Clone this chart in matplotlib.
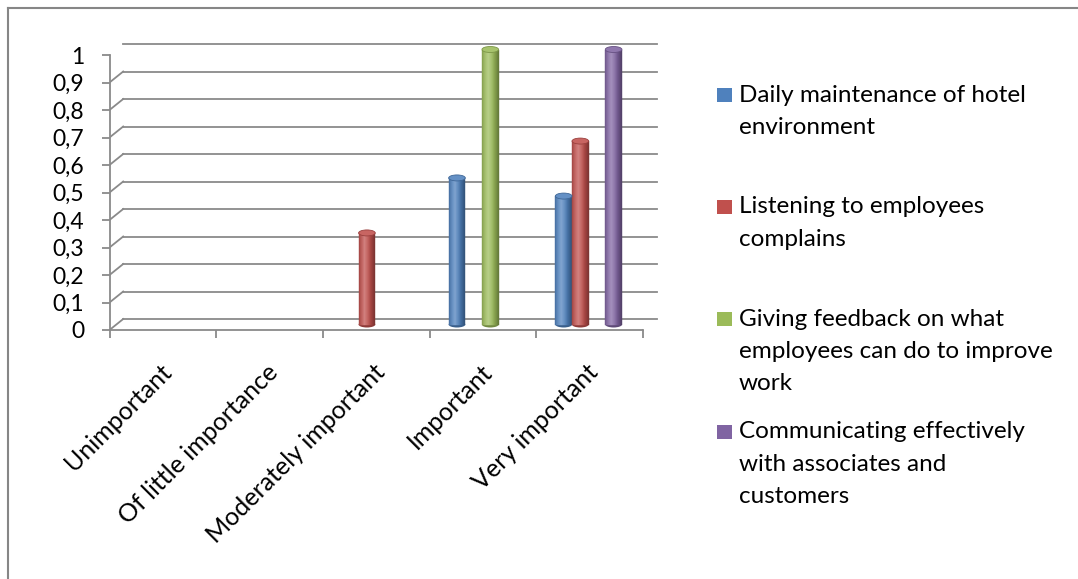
import numpy as np
import matplotlib
matplotlib.use("Agg")
import matplotlib.pyplot as plt
from matplotlib.transforms import ScaledTranslation, IdentityTransform
from matplotlib.patches import Ellipse, Rectangle
from matplotlib.lines import Line2D
from matplotlib.colors import to_rgb

# ---- data -------------------------------------------------------------
categories = ["Unimportant", "Of little importance", "Moderately important",
              "Important", "Very important"]
series_names = [
    "Daily maintenance of hotel\nenvironment",
    "Listening to employees\ncomplains",
    "Giving feedback on what\nemployees can do to improve\nwork",
    "Communicating effectively\nwith associates and\ncustomers",
]
daily_maintenance = [0, 0, 0, 0.533, 0.467]
listening_complaints = [0, 0, 0.333, 0, 0.667]
giving_feedback = [0, 0, 0, 1.0, 0]
communicating = [0, 0, 0, 0, 1.0]
series_values = [daily_maintenance, listening_complaints, giving_feedback, communicating]
series_colors = ["#4F81BD", "#C0504D", "#9BBB59", "#8064A2"]
y_ticks = np.round(np.arange(0, 1.01, 0.1), 1)

# ---- figure -----------------------------------------------------------
W, H, DPI = 1078, 579, 100
plt.rcParams["font.family"] = ["Lato", "DejaVu Sans"]
fig = plt.figure(figsize=(W / DPI, H / DPI), dpi=DPI)
fig.patch.set_facecolor("white")

GRID = "#8a8a8a"
TICK_FS = 16.5
CAT_FS = 18
LEG_FS = 17.5

ax = fig.add_axes([109.5 / W, (H - 330) / H, 533.5 / W, 275 / H])
ax.set_xlim(0, len(categories))
ax.set_ylim(0, 1)
ax.set_facecolor("none")


def shift(dx_px, dy_px):
    return ScaledTranslation(dx_px / DPI, dy_px / DPI, fig.dpi_scale_trans)


# depth of the 3-D box (pixels to the right and up)
DX, DY = 13.7, 11.0
back = ax.transData + shift(DX, DY)

# back wall gridlines plus their diagonal run on the side wall
for v in y_ticks:
    ax.plot([0, len(categories)], [v, v], color=GRID, lw=1.3,
            transform=back, clip_on=False, zorder=1)
    fx, fy = ax.transData.transform((0, v))
    ax.add_line(Line2D([fx, fx + DX], [fy, fy + DY], color=GRID, lw=1.3,
                       transform=IdentityTransform(), zorder=1))
# right edge of the floor
rx, ry = ax.transData.transform((len(categories), 0))
ax.add_line(Line2D([rx, rx + DX], [ry, ry + DY], color=GRID, lw=1.3,
                   transform=IdentityTransform(), zorder=1))

# axes, ticks
for s in ("top", "right"):
    ax.spines[s].set_visible(False)
for s in ("left", "bottom"):
    ax.spines[s].set_color(GRID)
    ax.spines[s].set_linewidth(1.3)
ax.set_yticks(y_ticks)
ax.set_yticklabels([f"{t:g}".replace(".", ",") for t in y_ticks], fontsize=TICK_FS)
ax.set_xticks(np.arange(len(categories) + 1))
ax.set_xticklabels([])
ax.tick_params(axis="both", color=GRID, width=1.3, length=5.8, direction="out")
ax.tick_params(axis="y", pad=12.5, labelcolor="black")

# category labels, rotated
for i, cat in enumerate(categories):
    ax.text(i + 0.5, 0, cat, fontsize=CAT_FS, rotation=45, rotation_mode="anchor",
            ha="right", va="top", transform=ax.transData + shift(-3, -30))


# ---- cylinders ----------------------------------------------------------
def shade(rgb, t):
    rgb = np.array(rgb)
    light = max(0.0, 1 - abs(t - 0.38) / 0.38) * 0.28
    dark = (abs(t - 0.4) / 0.6) ** 2 * 0.38
    c = rgb * (1 - dark)
    return c + (1 - c) * light


n_series = len(series_values)
bar_w = 0.156
n_strips = 17
bar_tr = ax.transData + shift(-1, 5.5)
cap_h = 6 / 275

for k, (vals, col) in enumerate(zip(series_values, series_colors)):
    base = to_rgb(col)
    for i, v in enumerate(vals):
        if v <= 0:
            continue
        x0 = i + (1 - n_series * bar_w) / 2 + k * bar_w
        ts = (np.arange(n_strips) + 0.5) / n_strips
        cols = [shade(base, t) for t in ts]
        xs = x0 + np.arange(n_strips) * bar_w / n_strips
        # rounded bottom
        ax.add_patch(Ellipse((x0 + bar_w / 2, 0), bar_w, cap_h,
                             facecolor=shade(base, 0.9), edgecolor="none",
                             transform=bar_tr, zorder=3))
        ax.bar(xs, [v] * n_strips, width=bar_w / n_strips, bottom=0,
               align="edge", color=cols, edgecolor=cols, linewidth=0.3,
               transform=bar_tr, zorder=4, clip_on=False)
        # top cap
        cap = np.array(base)
        cap = cap + (1 - cap) * 0.12
        ax.add_patch(Ellipse((x0 + bar_w / 2, v), bar_w, cap_h,
                             facecolor=cap, edgecolor=np.array(base) * 0.8,
                             linewidth=0.6, transform=bar_tr, zorder=5,
                             clip_on=False))

# ---- legend ---------------------------------------------------------------
entry_y = [95, 207, 319, 432]
line_gap = 32.3
for name, col, yc in zip(series_names, series_colors, entry_y):
    fig.add_artist(Rectangle((717 / W, 1 - (yc + 7) / H), 14.5 / W, 14 / H,
                             facecolor=col, edgecolor="none",
                             transform=fig.transFigure))
    for j, line in enumerate(name.split("\n")):
        fig.text(739 / W, 1 - (yc + j * line_gap) / H, line, fontsize=LEG_FS,
                 ha="left", va="center")

# ---- chart frame ------------------------------------------------------------
fig.add_artist(Line2D([7.5 / W, 7.5 / W], [0, 1 - 7.5 / H], color="#868686",
                      lw=1.5, transform=fig.transFigure))
fig.add_artist(Line2D([7.5 / W, 1], [1 - 7.5 / H, 1 - 7.5 / H], color="#868686",
                      lw=1.5, transform=fig.transFigure))

fig.savefig("out.png", dpi=DPI)
